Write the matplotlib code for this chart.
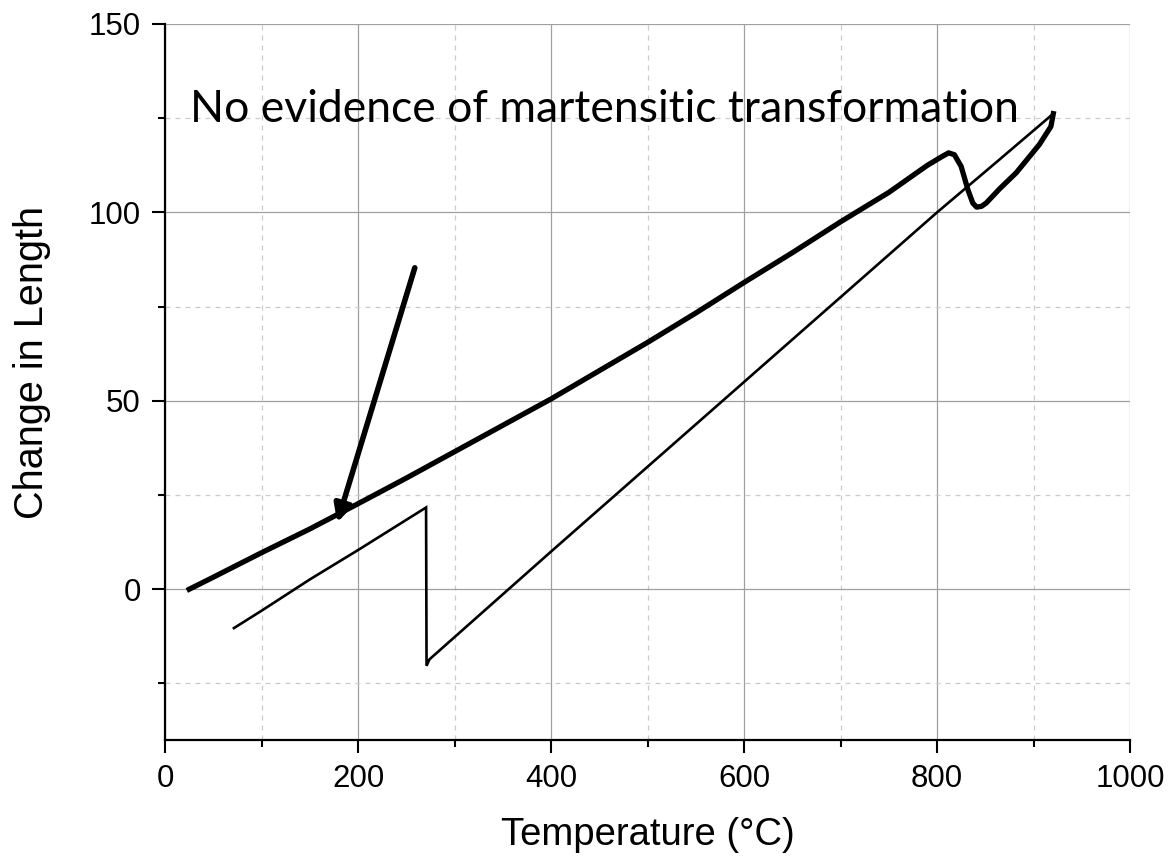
import numpy as np
import matplotlib.pyplot as plt
from matplotlib.ticker import MultipleLocator

# heating run (thick trace)
heat_T = [25, 50, 100, 150, 200, 250, 300, 350, 400, 450, 500, 550, 600, 650,
          700, 750, 790, 805, 812, 818, 825, 832, 837, 841, 846, 851, 865, 882,
          906, 918, 920.5]
heat_dL = [0, 3.2, 9.7, 16, 22.7, 29.5, 36.5, 43.5, 50.5, 58, 65.5, 73.3, 81.4,
           89.3, 97.5, 105.3, 112.5, 114.8, 115.8, 115.3, 112.2, 106, 102.5,
           101.4, 101.6, 102.5, 106.3, 110.5, 118, 122.8, 126.2]

# cooling run (thin trace)
cool_T = [920.5, 860, 800, 700, 600, 500, 400, 274, 271, 270.5, 200, 150, 100, 71.4]
cool_dL = [126.2, 113, 100, 77.5, 55, 32.5, 10, -18.6, -20.3, 21.7, 10.4, 2.6, -5.7, -10.3]

arrow_tail = (258.8, 85.3)
arrow_tip = (178.4, 17.7)

plt.rcParams['font.family'] = ['Liberation Sans', 'DejaVu Sans']

fig = plt.figure(figsize=(11.68, 8.56), dpi=100)
ax = fig.add_axes([0.1413, 0.1355, 0.8262, 0.8365])

ax.plot(heat_T, heat_dL, color='black', lw=3.8, solid_joinstyle='round', zorder=3)
ax.plot(cool_T, cool_dL, color='black', lw=1.9, solid_joinstyle='miter', zorder=3)

ax.annotate('', xy=arrow_tip, xytext=arrow_tail,
            arrowprops=dict(arrowstyle='-|>', color='black', lw=4,
                            mutation_scale=26, shrinkA=0, shrinkB=0),
            zorder=4)

ax.text(26, 127.3, 'No evidence of martensitic transformation',
        fontsize=32, family=['Lato', 'DejaVu Sans'], va='center', ha='left')

ax.set_xlim(0, 1000)
ax.set_ylim(-40, 150)
ax.xaxis.set_major_locator(MultipleLocator(200))
ax.xaxis.set_minor_locator(MultipleLocator(100))
ax.yaxis.set_major_locator(MultipleLocator(50))
ax.yaxis.set_minor_locator(MultipleLocator(25))

ax.grid(which='major', color='#a0a0a0', lw=0.9, ls='-')
ax.grid(which='minor', color='#cccccc', lw=0.9, ls=(0, (4, 4)))
ax.set_axisbelow(True)

for s in ['top', 'right']:
    ax.spines[s].set_visible(False)
for s in ['left', 'bottom']:
    ax.spines[s].set_linewidth(1.6)

ax.tick_params(which='major', direction='out', length=9.5, width=1.5,
               labelsize=22.5, pad=8)
ax.tick_params(which='minor', direction='out', length=5, width=1.5)

ax.set_xlabel('Temperature (°C)', fontsize=27.5)
ax.set_ylabel('Change in Length', fontsize=28.5)
ax.xaxis.set_label_coords(0.5, -0.107)
ax.yaxis.set_label_coords(-0.118, 0.528)

fig.savefig('out.png', dpi=100)
